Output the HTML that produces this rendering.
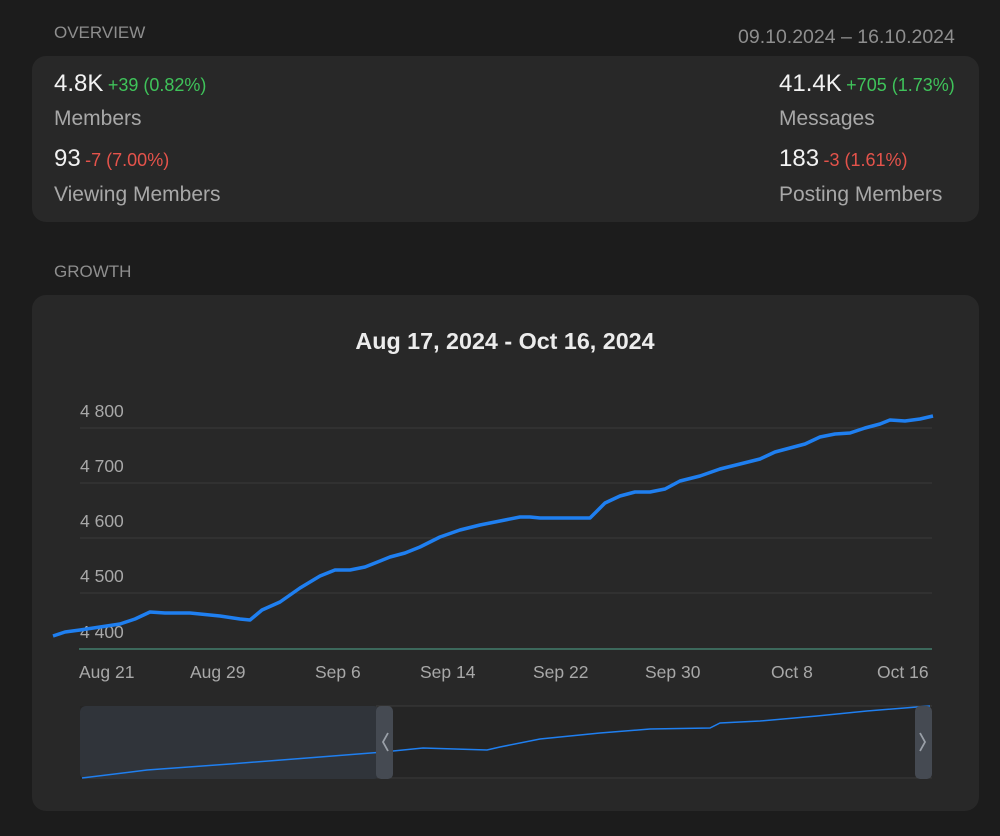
<!DOCTYPE html>
<html><head><meta charset="utf-8"><style>
html,body{margin:0;padding:0;background:#1c1c1c;width:1000px;height:836px;overflow:hidden;font-family:"Liberation Sans",sans-serif;}
.t{position:absolute;white-space:nowrap;}
.card{position:absolute;background:#282828;border-radius:14px;}
.hd{color:#8e8e8e;font-size:17px;}
.big{color:#f2f2f2;font-size:24px;}
.lab{color:#a8a8a8;font-size:21px;}
.g{color:#3fc35a;font-size:18px;}
.r{color:#e5534b;font-size:18px;}
</style></head><body>
<div class="t hd" style="left:54px;top:23px">OVERVIEW</div>
<div class="t hd" style="left:738px;top:26px;font-size:19.5px">09.10.2024 – 16.10.2024</div>
<div class="card" style="left:32px;top:56px;width:947px;height:166px"></div>
<div class="t" style="left:54px;top:70px"><span class="big">4.8K</span> <span class="g">+39 (0.82%)</span></div>
<div class="t lab" style="left:54px;top:107px">Members</div>
<div class="t" style="left:54px;top:145px"><span class="big">93</span> <span class="r">-7 (7.00%)</span></div>
<div class="t lab" style="left:54px;top:183px">Viewing Members</div>
<div class="t" style="left:779px;top:70px"><span class="big">41.4K</span> <span class="g">+705 (1.73%)</span></div>
<div class="t lab" style="left:779px;top:107px">Messages</div>
<div class="t" style="left:779px;top:145px"><span class="big">183</span> <span class="r">-3 (1.61%)</span></div>
<div class="t lab" style="left:779px;top:183px">Posting Members</div>
<div class="t hd" style="left:54px;top:262px">GROWTH</div>
<div class="card" style="left:32px;top:295px;width:947px;height:516px"></div>
<svg style="position:absolute;left:0;top:0" width="1000" height="836">
<text x="505" y="349" text-anchor="middle" fill="#ececec" font-size="23.3" font-weight="bold" font-family="Liberation Sans">Aug 17, 2024 - Oct 16, 2024</text>
<g stroke="#3a3a3a" stroke-width="1">
<line x1="80" y1="428" x2="932" y2="428"/><line x1="80" y1="483" x2="932" y2="483"/><line x1="80" y1="538" x2="932" y2="538"/><line x1="80" y1="593" x2="932" y2="593"/>
</g>
<line x1="79" y1="649" x2="932" y2="649" stroke="#4fa88e" stroke-width="1"/>
<g fill="#a8a8a8" font-size="17.5" font-family="Liberation Sans">
<text x="80" y="417">4 800</text><text x="80" y="472">4 700</text><text x="80" y="527">4 600</text><text x="80" y="582">4 500</text><text x="80" y="638">4 400</text>
<text x="79" y="678">Aug 21</text><text x="190" y="678">Aug 29</text><text x="315" y="678">Sep 6</text><text x="420" y="678">Sep 14</text><text x="533" y="678">Sep 22</text><text x="645" y="678">Sep 30</text><text x="771" y="678">Oct 8</text><text x="877" y="678">Oct 16</text>
</g>
<polyline fill="none" stroke="#1f7ff0" stroke-width="3.5" stroke-linejoin="round" points="53,636 65,632 80,630 100,627 120,624 135,619 150,612 165,613 190,613 220,616 240,619 250,620 262,610 280,602 300,588 320,576 335,570 350,570 365,567 390,557 405,553 420,547 440,537 460,530 480,525 500,521 520,517 530,517 540,518 560,518 590,518 605,503 620,496 635,492 650,492 665,489 680,481 700,476 720,469 740,464 760,459 775,452 790,448 805,444 820,437 835,434 850,433 865,428 880,424 890,420 905,421 920,419 933,416"/>
<rect x="80" y="706" width="852" height="73" fill="#252525"/>
<line x1="376" y1="706" x2="932" y2="706" stroke="#3c3c3c"/><line x1="376" y1="778" x2="932" y2="778" stroke="#3c3c3c"/>
<rect x="80" y="706" width="300" height="73" rx="6" fill="#30343a"/>
<polyline fill="none" stroke="#1f7ff0" stroke-width="1.5" points="82,778 147,770 230,764 320,757 383,752 423,748 487,750 500,747 540,739 600,733 650,729 710,728 720,723 760,721 817,716 867,711 917,707 930,706"/>
<rect x="376" y="706" width="17" height="73" rx="5" fill="#454a52"/>
<rect x="915" y="706" width="17" height="73" rx="5" fill="#454a52"/>
<polyline fill="none" stroke="#9aa0a8" stroke-width="1.8" points="388,733 383,742 388,751"/>
<polyline fill="none" stroke="#9aa0a8" stroke-width="1.8" points="920,733 925,742 920,751"/>
</svg>
</body></html>
